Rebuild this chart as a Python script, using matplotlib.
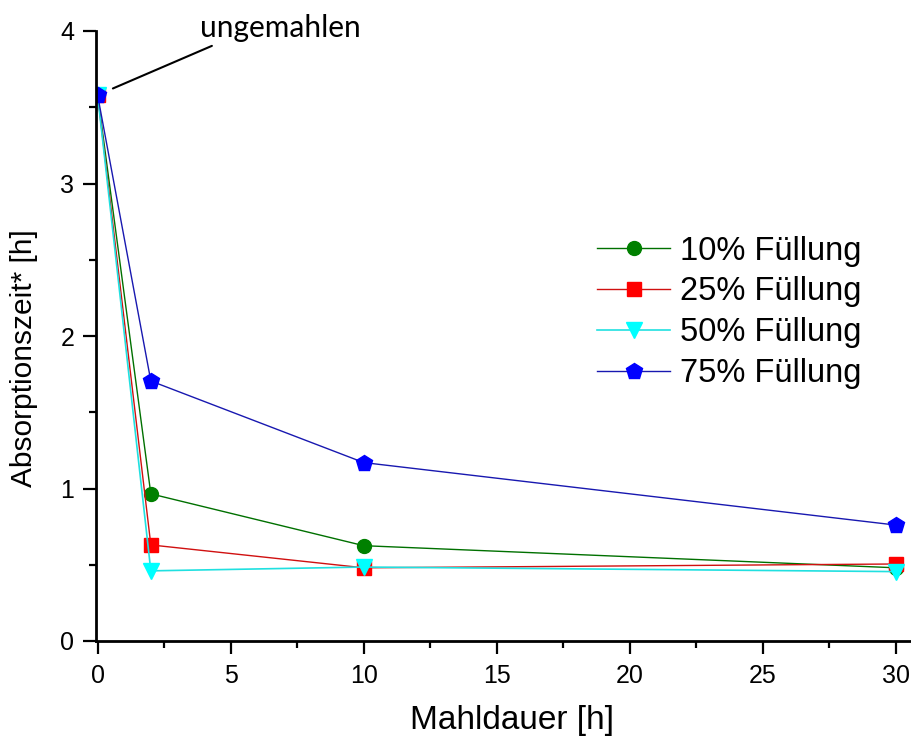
import numpy as np
import matplotlib
matplotlib.use("Agg")
import matplotlib.pyplot as plt
from matplotlib.ticker import MultipleLocator

# Mahldauer in Stunden
mahldauer = [0, 2, 10, 30]

# Absorptionszeit* [h] je Füllgrad
fuellung_10 = [3.58, 0.965, 0.625, 0.48]
fuellung_25 = [3.58, 0.63, 0.48, 0.505]
fuellung_50 = [3.58, 0.46, 0.485, 0.455]
fuellung_75 = [3.58, 1.705, 1.17, 0.76]

labels = ["10% Füllung", "25% Füllung", "50% Füllung", "75% Füllung"]

plt.rcParams["font.family"] = ["Liberation Sans", "DejaVu Sans"]

fig = plt.figure(figsize=(9.12, 7.42), dpi=100)
W, H = 912, 742
ax = fig.add_axes([96 / W, (H - 641) / H, (912 - 96) / W, (641 - 31) / H])

ax.plot(mahldauer, fuellung_10, color="#007000", lw=1.0, marker="o", ms=10,
        mfc="#008000", mec="#008000", label=labels[0])
ax.plot(mahldauer, fuellung_25, color="#d01010", lw=1.0, marker="s", ms=9.5,
        mfc="#ff0000", mec="#ff0000", label=labels[1])
ax.plot(mahldauer, fuellung_50, color="#20e0e0", lw=1.2, marker="v", ms=12,
        mfc="#00ffff", mec="#00ffff", label=labels[2])
ax.plot(mahldauer, fuellung_75, color="#1818b0", lw=1.0, marker="p", ms=12,
        mfc="#0000ff", mec="#0000ff", label=labels[3])

ax.set_xlim(-0.06, 30.6)
ax.set_ylim(0, 4)

for side in ("top", "right"):
    ax.spines[side].set_visible(False)
for side in ("left", "bottom"):
    ax.spines[side].set_linewidth(2.0)
    ax.spines[side].set_capstyle("projecting")

ax.xaxis.set_major_locator(MultipleLocator(5))
ax.xaxis.set_minor_locator(MultipleLocator(2.5))
ax.yaxis.set_major_locator(MultipleLocator(1))
ax.yaxis.set_minor_locator(MultipleLocator(0.5))
ax.tick_params(which="major", direction="out", length=9.5, width=1.6,
               labelsize=18)
ax.tick_params(axis="x", which="major", pad=7)
ax.tick_params(axis="y", which="major", pad=6)
ax.tick_params(which="minor", direction="out", length=5, width=1.6)

ax.set_xlabel("Mahldauer [h]", fontsize=24)
ax.set_ylabel("Absorptionszeit* [h]", fontsize=21.5)
ax.xaxis.set_label_coords(0.51, -0.105)
ax.yaxis.set_label_coords(-0.071, 0.464)

ax.legend(loc="upper left", bbox_to_anchor=(0.598, 0.686), frameon=False,
          fontsize=23.5, handlelength=2.25, handletextpad=0.3,
          labelspacing=0.3, borderaxespad=0)

ax.annotate("ungemahlen", xy=(mahldauer[0], fuellung_75[0]),
            xytext=(200, H - 28), textcoords="figure pixels",
            fontsize=21.5, family=["Lato", "DejaVu Sans"],
            ha="left", va="center",
            arrowprops=dict(arrowstyle="-", color="black", lw=1.5,
                            shrinkA=2, shrinkB=12,
                            relpos=(0.13, 0.0)),
            annotation_clip=False)

fig.savefig("out.png", dpi=100)
